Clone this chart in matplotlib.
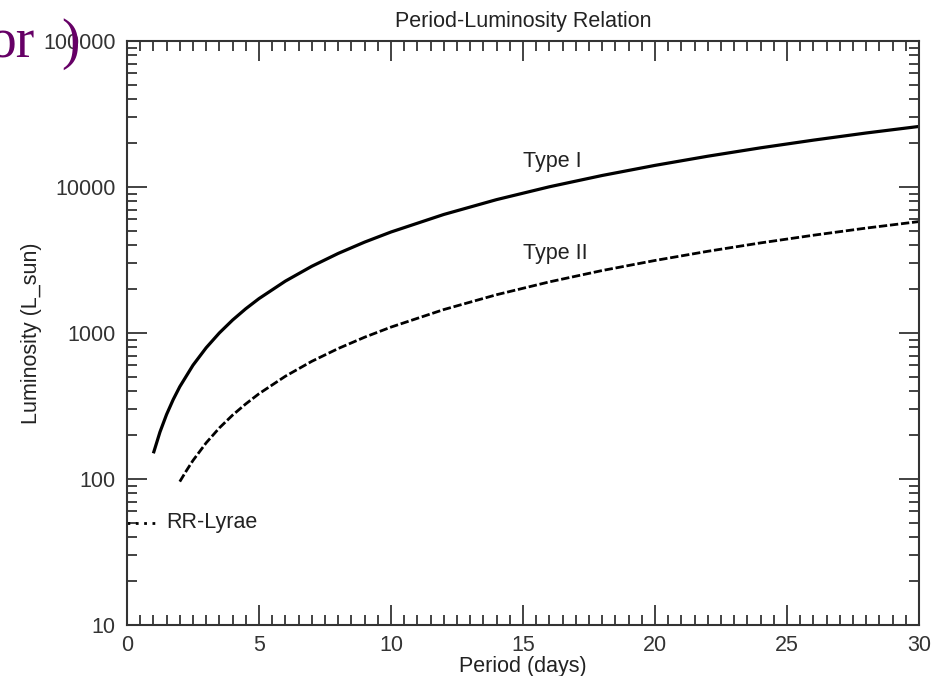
import numpy as np
import matplotlib
matplotlib.use("Agg")
import matplotlib.pyplot as plt
from matplotlib.ticker import FixedLocator, FuncFormatter, LogLocator, MultipleLocator

plt.rcParams['font.family'] = ['Liberation Sans', 'DejaVu Sans']

# values
period_1 = [1, 1.25, 1.5, 1.75, 2, 2.5, 3, 3.5, 4, 4.5, 5, 6, 7, 8, 9, 10, 12, 14, 16, 18, 20, 22, 24, 26, 28, 30]
lum_1 = [150, 210, 277, 350, 429, 602, 793, 1002, 1227, 1467, 1721, 2268, 2865, 3509, 4195, 4920,
         6488, 8200, 10040, 12000, 14070, 16260, 18560, 20950, 23450, 26000]
period_2 = [2, 2.25, 2.5, 3, 3.5, 4, 4.5, 5, 6, 7, 8, 9, 10, 12, 14, 16, 18, 20, 22, 24, 26, 28, 30]
lum_2 = [96, 114, 134, 177, 224, 274, 327, 384, 506, 640, 783, 936, 1098, 1448, 1830, 2241,
         2680, 3140, 3630, 4143, 4676, 5234, 5800]
period_rr = [0, 1.1]
lum_rr = [50, 50]
ytick_vals = [10, 100, 1000, 10000, 100000]

fig = plt.figure(figsize=(9.33, 6.76), dpi=100)
ax = fig.add_axes([0.1361, 0.0754, 0.8489, 0.8639])

ax.plot(period_1, lum_1, color='black', lw=2.3, solid_capstyle='butt')
ax.plot(period_2, lum_2, color='black', lw=2.0, dashes=(3, 1))
ax.plot(period_rr, lum_rr, color='black', lw=2.0, dashes=(1, 2))

ax.set_yscale('log')
ax.set_xlim(0, 30)
ax.set_ylim(10, 100000)

ax.xaxis.set_major_locator(MultipleLocator(5))
ax.xaxis.set_minor_locator(MultipleLocator(0.5))
ax.yaxis.set_major_locator(FixedLocator(ytick_vals))
ax.yaxis.set_minor_locator(LogLocator(base=10, subs=np.arange(2, 10)))
ax.yaxis.set_minor_formatter(FuncFormatter(lambda v, p: ''))
ax.yaxis.set_major_formatter(FuncFormatter(lambda v, p: '%d' % round(v)))
ax.xaxis.set_major_formatter(FuncFormatter(lambda v, p: '%d' % round(v)))

ax.tick_params(which='both', direction='in', top=True, right=True, width=1.2, colors='#222222',
               labelsize=15.5, labelcolor='#333333')
ax.tick_params(which='major', length=14.4)
ax.tick_params(axis='y', which='major', pad=8)
ax.tick_params(axis='x', which='major', pad=7)
ax.tick_params(which='minor', length=7.2)
for s in ax.spines.values():
    s.set_linewidth(1.5)
    s.set_color('#333333')

ax.text(15, 15000, 'Type I', fontsize=15.5, color='#222222', va='center')
ax.text(15, 3500, 'Type II', fontsize=15.5, color='#222222', va='center')
ax.text(1.5, 50, 'RR-Lyrae', fontsize=15.5, color='#222222', va='center')

ax.set_title('Period-Luminosity Relation', fontsize=15.5, color='#222222', pad=10)
ax.set_xlabel('Period (days)', fontsize=15.5, color='#222222', labelpad=0)
ax.set_ylabel('Luminosity (L_sun)', fontsize=15.5, color='#222222', labelpad=1)

fig.text(-0.012, 0.915, 'or', family=['Liberation Serif', 'DejaVu Serif'], fontsize=40, color='#660066', va='baseline')
fig.text(0.066, 0.915, ')', family=['Liberation Serif', 'DejaVu Serif'], fontsize=40, color='#660066', va='baseline')

fig.savefig('out.png', dpi=100)
